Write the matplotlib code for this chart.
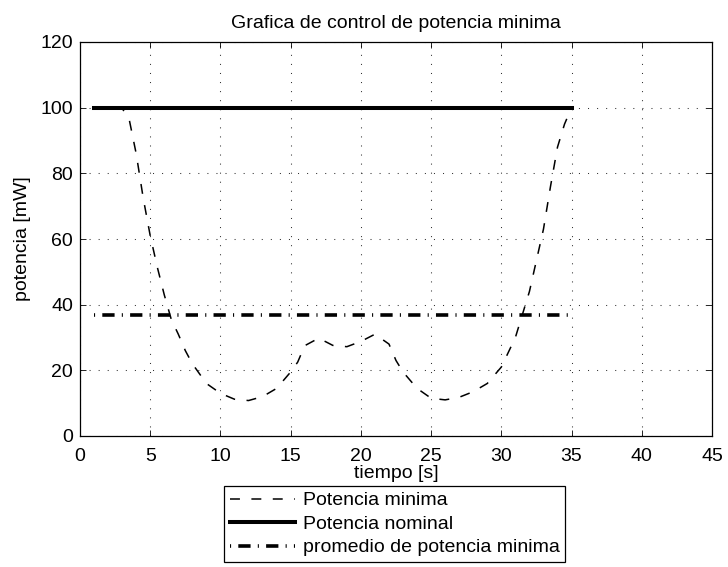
import numpy as np
import matplotlib
matplotlib.use('Agg')
from matplotlib import pyplot as plt

# potencia minima (curva punteada)
t_min = [1, 2, 3, 3.5, 4, 4.5, 5, 5.5, 6, 6.5, 7, 7.5, 8, 9, 10, 11, 12, 13, 14, 15,
         15.5, 16, 17, 18, 19, 20, 21, 22, 22.5, 23, 24, 25, 26, 27, 28, 29, 30,
         31, 32, 33, 33.5, 34, 34.5, 35]
p_min = [100, 100, 99.8, 96.5, 86, 72.5, 61, 51.5, 43, 35.5, 31, 26, 22, 16, 13, 11.2, 10.8, 12, 14.5, 19.5,
         22.5, 27.5, 29.8, 27.6, 27.2, 28.8, 31, 28, 23, 19.5, 14.5, 11.5, 11, 11.8, 13.5, 16, 21,
         30, 44, 63, 76, 88, 95, 100]

t_nom = [1, 35]
p_nom = [100, 100]

t_prom = [1, 35]
p_prom = [37, 37]

labels = ['Potencia minima', 'Potencia nominal', 'promedio de potencia minima']

plt.rcParams['font.family'] = ['Liberation Sans', 'DejaVu Sans']
plt.rcParams['font.size'] = 14

fig = plt.figure(figsize=(7.28, 5.67), dpi=100)
ax = fig.add_axes([80/728, 1-436/567, 632/728, 394/567])

ax.plot(t_min, p_min, 'k--', lw=1.1, dashes=(6.5, 7.5), label=labels[0])
ax.plot(t_nom, p_nom, 'k-', lw=2.9, label=labels[1])
ax.plot(t_prom, p_prom, 'k-.', lw=2.6, dashes=(0.3, 2.0, 3.4, 2.0), label=labels[2])

ax.set_xlim(0, 45)
ax.set_ylim(0, 120)
ax.set_xticks(range(0, 46, 5))
ax.set_yticks(range(0, 121, 20))
ax.grid(True, linestyle=(0, (1, 7.7)), color='#333333', lw=0.75)
ax.tick_params(direction='in', top=True, right=True, length=4, width=0.6, labelsize=14)
ax.tick_params(axis='x', pad=8.5)
ax.tick_params(axis='y', pad=5)
for s in ax.spines.values():
    s.set_linewidth(0.9)

ax.set_title('Grafica de control de potencia minima', fontsize=14, pad=10)
ax.set_xlabel('tiempo [s]', labelpad=0)
ax.set_ylabel('potencia [mW]', labelpad=7)

leg = fig.legend(loc='upper left', bbox_to_anchor=(224/728, 1-486/567), borderaxespad=0,
                 fancybox=False, edgecolor='k', framealpha=1, fontsize=14, handlelength=3.35,
                 handletextpad=0.4, labelspacing=0.3, borderpad=0.3)
leg.get_frame().set_linewidth(0.9)

fig.savefig('out.png', dpi=100)
